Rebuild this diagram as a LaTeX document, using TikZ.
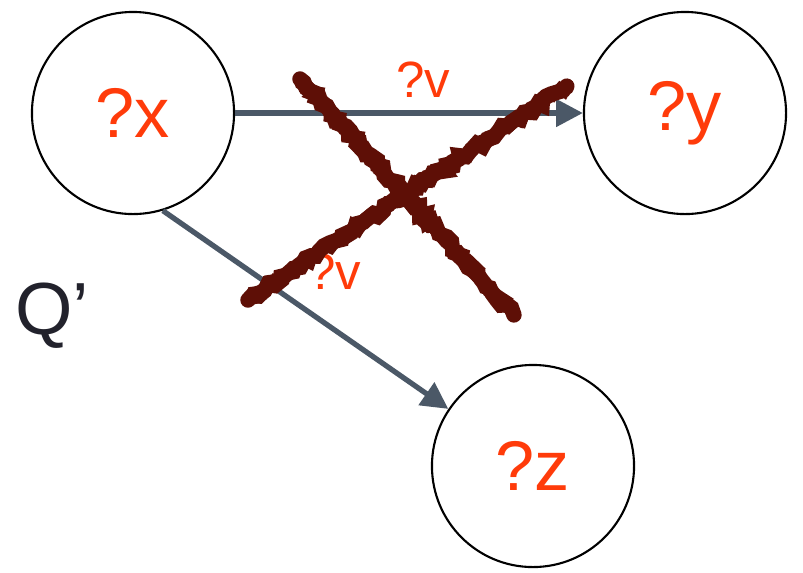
\documentclass[tikz,border=0pt]{standalone}
\usepackage{fontspec}
\setmainfont{Liberation Sans}
\usetikzlibrary{arrows.meta, decorations.pathmorphing}
\definecolor{varred}{HTML}{FF3B0A}
\definecolor{edgegrey}{HTML}{4B5867}
\definecolor{crossred}{HTML}{5E0F06}
\definecolor{qblack}{HTML}{22222C}
\tikzset{
  x=0.01cm, y=-0.01cm,
  var/.style={circle, draw=black, line width=0.6pt, minimum size=2.02cm, inner sep=0pt,
              text=varred, font=\fontsize{20}{24}\selectfont},
  flow/.style={-{Triangle[length=7.6pt, width=7.6pt]}, line width=1.5pt, draw=edgegrey},
  lbl/.style={text=varred, font=\fontsize{14.5}{16}\selectfont, inner sep=0pt},
  cross/.style={draw=crossred, line cap=round, decorate,
                decoration={random steps, segment length=1.5pt, amplitude=0.9pt}},
}
\begin{document}
\begin{tikzpicture}
  \useasboundingbox (0,0) rectangle (803,572);
  \pgfmathsetseed{7}
  \node[var] (nx) at (133,113) {?x};
  \node[var] (ny) at (685,113) {?y};
  \node[var] (nz) at (533,466) {?z};
  \node[font=\fontsize{21}{24}\selectfont, text=qblack] (q) at (52,316) {Q’};
  \draw[flow] (nx.east) -- (ny.west);
  \draw[flow] (nx.-73) -- (nz.146);
  \node[lbl] (va) at (423,80) {?v};
  \node[lbl] (vb) at (334,272) {?v};
  % the cross over the ?v edges
  \coordinate (ca) at (300,79);
  \coordinate (cb) at (514,315);
  \coordinate (cc) at (248,300);
  \coordinate (cd) at (567,86);
  \foreach \w in {4.4pt, 3.8pt, 3pt} {
    \draw[cross, line width=\w] (ca) -- (cb);
    \draw[cross, line width=\w] (cc) -- (cd);
  }
\end{tikzpicture}
\end{document}
